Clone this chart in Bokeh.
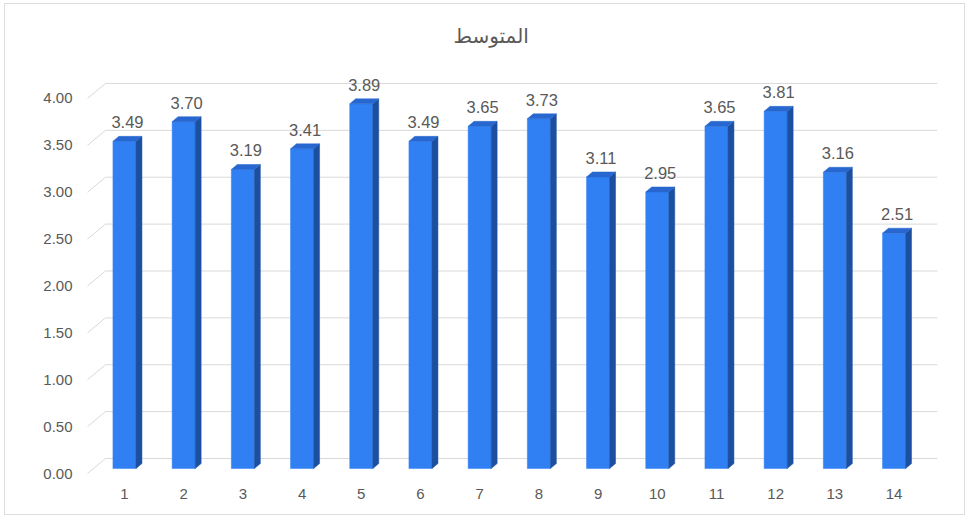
from bokeh.plotting import figure
from bokeh.models import ColumnDataSource, Range1d, FixedTicker, NumeralTickFormatter
from bokeh.embed import file_html
from bokeh.resources import INLINE

# ---- data ----
categories = list(range(1, 15))
values = [3.49, 3.70, 3.19, 3.41, 3.89, 3.49, 3.65, 3.73, 3.11, 2.95, 3.65, 3.81, 3.16, 2.51]
y_ticks = [0.0, 0.5, 1.0, 1.5, 2.0, 2.5, 3.0, 3.5, 4.0]
title_text = "المتوسط"

# ---- style constants (data units) ----
W = 0.39      # front face width
DX = 0.10     # depth shift to the right
RISE = 0.053  # depth shift upward
LIFT = 0.053  # bar base above front floor edge
BACK = 0.16   # back wall vertical offset
GX0, GX1, GX2 = 0.375, 0.679, 14.73

FRONT = "#3080f3"
SIDE = "#1c4f9f"
TOP = "#2767cf"
GRID = "#d9d9d9"
TXT = "#595959"

p = figure(width=961, height=512, output_backend="svg", toolbar_location=None,
           x_range=Range1d(0.257, 15.122), y_range=Range1d(-0.0533, 4.405),
           min_border_left=75, min_border_right=6, min_border_top=56, min_border_bottom=38)
p.styles = {"margin": "3px 0 0 4px", "border": "1px solid #dedede"}
p.background_fill_color = "white"
p.border_fill_color = "white"
p.outline_line_color = None
p.xgrid.visible = False
p.ygrid.visible = False

# gridlines (3D wall)
diag_x0 = [GX0] * len(y_ticks)
diag_x1 = [GX1] * len(y_ticks)
back_y = [t + BACK for t in y_ticks]
p.segment(x0=diag_x0, y0=y_ticks, x1=diag_x1, y1=back_y, line_color=GRID, line_width=1)
p.segment(x0=diag_x1, y0=back_y, x1=[GX2] * len(y_ticks), y1=back_y, line_color=GRID, line_width=1)

# bars
bottoms = [LIFT] * len(values)
tops = [v + LIFT for v in values]
p.vbar(x=categories, width=W, bottom=bottoms, top=tops, fill_color=FRONT, line_color=FRONT, line_width=0.5)

side_xs, side_ys, top_xs, top_ys = [], [], [], []
for c, t in zip(categories, tops):
    xr = c + W / 2
    xl = c - W / 2
    side_xs.append([xr, xr + DX, xr + DX, xr])
    side_ys.append([LIFT, LIFT + RISE, t + RISE, t])
    top_xs.append([xl, xr, xr + DX, xl + DX])
    top_ys.append([t, t, t + RISE, t + RISE])
p.patches(side_xs, side_ys, fill_color=SIDE, line_color=SIDE, line_width=0.5)
p.patches(top_xs, top_ys, fill_color=TOP, line_color=TOP, line_width=0.5)

# value labels
lab = ColumnDataSource(dict(x=[c + DX / 2 for c in categories],
                            y=[t + RISE for t in tops],
                            txt=["%.2f" % v for v in values]))
p.text(x="x", y="y", text="txt", source=lab, text_align="center", text_baseline="bottom",
       y_offset=-8, text_color=TXT, text_font_size="16.5px",
       text_font={"value": "Liberation Sans"})

# axes
p.yaxis.ticker = FixedTicker(ticks=y_ticks)
p.yaxis.formatter = NumeralTickFormatter(format="0.00")
p.xaxis.ticker = FixedTicker(ticks=categories)
for ax in (p.xaxis[0], p.yaxis[0]):
    ax.axis_line_color = None
    ax.major_tick_line_color = None
    ax.minor_tick_line_color = None
    ax.major_label_text_color = TXT
    ax.major_label_text_font = "Liberation Sans"
    ax.major_label_text_font_size = "15px"
p.yaxis.major_label_standoff = 2
p.xaxis.major_label_standoff = 4

# title
p.title.text = title_text
p.title.align = "left"
p.title.offset = 373
p.title.text_font = "DejaVu Sans"
p.title.text_font_size = "20px"
p.title.text_font_style = "normal"
p.title.text_color = TXT
p.title.standoff = 26

open("out.html", "w").write(file_html(p, INLINE))
